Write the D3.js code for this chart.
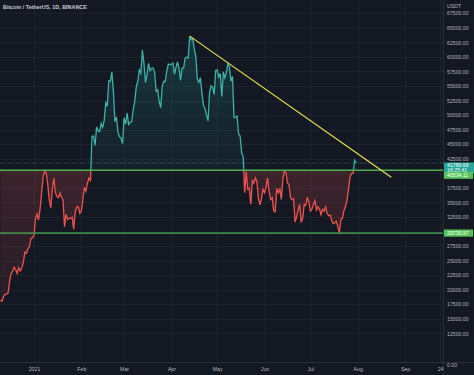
<!DOCTYPE html>
<html><head><meta charset="utf-8">
<script src="https://cdn.jsdelivr.net/npm/d3@7"></script>
<style>html,body{margin:0;padding:0;background:#131722;overflow:hidden}</style>
</head><body><svg id="c" width="474" height="375"></svg>
<script>
// ---------- data ----------
const title = "Bitcoin / TetherUS, 1D, BINANCE";
const currency = "USDT";
const startDate = "2020-12-10";
// daily closes from 2020-12-10 to 2021-07-31
const closes = [
  18254,18036,18808,19175,19273,19427,21380,22847,23137,23870,23477,22803,23783,23241,23735,24693,26443,26246,27036,27376,28856,28923,
  29331,32178,33000,31988,33949,36769,39432,40400,40088,38150,35404,34051,37371,39144,36742,35994,35828,36631,35891,35468,30850,32945,32078,32259,32254,32467,30366,33364,34252,34262,33092,
  33526,35466,37618,36937,38291,39186,38795,46374,46420,44807,47969,47287,47153,48577,47911,49133,52119,51552,55906,55841,57408,54087,48891,49676,47073,46276,46106,45135,
  49587,48440,50349,48374,48751,48882,50971,52375,54884,55851,57773,57221,61188,58968,55605,56900,58912,57648,58030,58102,57351,54083,54340,52303,51293,55025,55817,55777,57635,58746,58740,
  58720,58950,57051,58202,59129,57992,56000,58088,58092,59778,59964,59835,63577,62959,63159,61334,60006,56151,55633,56425,53787,51690,51125,50047,49004,54022,55034,54825,53556,57697,
  57797,56578,57170,53200,57436,56393,57314,58862,58241,55816,56670,49631,49671,49841,46762,46431,43538,42849,36690,40300,37252,37449,34655,38750,38324,39241,38529,35663,34605,35641,37254,
  36693,37568,39246,36829,35513,35796,33552,33380,37389,36662,37288,35511,39020,40400,40144,38349,38092,35820,35484,35600,31608,32509,33678,34663,31584,32283,34700,34494,35911,35045,
  33504,33786,34669,35287,33690,34220,33862,32875,33815,33502,34259,33086,32730,32820,31880,31383,31520,31779,30839,29790,32144,32288,33581,34292,35350,37337,39406,39995,40009,42236,41781
];
const baseline = 40534.11;
const levels = [40534.11, 29735.97];
const levelLabels = ["40534.11", "29735.97"];
const lastPrice = 41780.68;
const lastPriceLabel = "41780.68";
const countdown = "16:25:41";
const trendDates = ["2021-04-13", "2021-08-23"];
const trendPrices = [63577, 39320];
const yTicks = [12500,15000,17500,20000,22500,25000,27500,30000,32500,35000,37500,40000,42500,45000,47500,50000,52500,55000,57500,60000,62500,65000,67500];
const xTickDates = ["2021-01-01","2021-02-01","2021-03-01","2021-04-01","2021-05-01","2021-06-01","2021-07-01","2021-08-01","2021-09-01","2021-09-24"];
const xTickLabels = ["2021","Feb","Mar","Apr","May","Jun","Jul","Aug","Sep","24"];
const zeroLabel = "0.00";

// ---------- layout ----------
const W = 474, H = 375, plotR = 443, plotB = 362;
const FONT = "'Liberation Sans', Arial, sans-serif";
const C = {bg:"#141823", grid:"#1d212c", axisLine:"#2a2e39", text:"#b2b5be", teal:"#3bb3a6", red:"#ef5350",
           green:"#4caf50", yellow:"#e9e24f"};

const day = 86400000;
const t0 = new Date(startDate).getTime();
const data = closes.map((v,i)=>({d:new Date(t0+i*day), v}));

const x = d3.scaleUtc().domain([new Date("2021-01-01"), new Date("2021-09-01")]).range([34, 405]);
const y = d3.scaleLinear().domain([12500, 67500]).range([333.4, 13.3]);

const svg = d3.select("#c");
svg.append("rect").attr("width",W).attr("height",H).attr("fill",C.bg);

const defs = svg.append("defs");
const yb = y(baseline);
defs.append("clipPath").attr("id","above").append("rect").attr("x",0).attr("y",0).attr("width",plotR).attr("height",yb);
defs.append("clipPath").attr("id","below").append("rect").attr("x",0).attr("y",yb).attr("width",plotR).attr("height",plotB-yb);

const gT = defs.append("linearGradient").attr("id","gT").attr("gradientUnits","userSpaceOnUse")
  .attr("x1",0).attr("x2",0).attr("y1",y(d3.max(closes))).attr("y2",yb);
gT.append("stop").attr("offset",0).attr("stop-color","#26a69a").attr("stop-opacity",0.22);
gT.append("stop").attr("offset",1).attr("stop-color","#26a69a").attr("stop-opacity",0.05);
const gR = defs.append("linearGradient").attr("id","gR").attr("gradientUnits","userSpaceOnUse")
  .attr("x1",0).attr("x2",0).attr("y1",yb).attr("y2",y(d3.min(closes)));
gR.append("stop").attr("offset",0).attr("stop-color","#ef5350").attr("stop-opacity",0.18);
gR.append("stop").attr("offset",1).attr("stop-color","#ef5350").attr("stop-opacity",0.09);

// grid
const grid = svg.append("g");
grid.selectAll("line.h").data(yTicks).join("line")
  .attr("x1",0).attr("x2",plotR).attr("y1",d=>Math.round(y(d))+0.5).attr("y2",d=>Math.round(y(d))+0.5)
  .attr("stroke",C.grid).attr("stroke-width",1);
grid.selectAll("line.v").data(xTickDates).join("line")
  .attr("x1",d=>Math.round(x(new Date(d)))+0.5).attr("x2",d=>Math.round(x(new Date(d)))+0.5)
  .attr("y1",0).attr("y2",plotB).attr("stroke",C.grid).attr("stroke-width",1);

// series
const area = d3.area().x(d=>x(d.d)).y0(yb).y1(d=>y(d.v));
const line = d3.line().x(d=>x(d.d)).y(d=>y(d.v));
const s = svg.append("g");
s.append("path").datum(data).attr("d",area).attr("fill","url(#gT)").attr("clip-path","url(#above)");
s.append("path").datum(data).attr("d",area).attr("fill","url(#gR)").attr("clip-path","url(#below)");
s.append("path").datum(data).attr("d",line).attr("fill","none").attr("stroke",C.teal).attr("stroke-width",1.3).attr("clip-path","url(#above)");
s.append("path").datum(data).attr("d",line).attr("fill","none").attr("stroke",C.red).attr("stroke-width",1.3).attr("clip-path","url(#below)");

// last price line
svg.append("line").attr("x1",0).attr("x2",plotR).attr("y1",y(lastPrice)).attr("y2",y(lastPrice))
  .attr("stroke","#26a69a").attr("stroke-opacity",0.55).attr("stroke-width",1).attr("stroke-dasharray","1,1");

// horizontal levels
svg.selectAll("line.lvl").data(levels).join("line")
  .attr("x1",0).attr("x2",plotR).attr("y1",d=>y(d)).attr("y2",d=>y(d))
  .attr("stroke",C.green).attr("stroke-width",1.3);

// trend line
svg.append("line")
  .attr("x1",x(new Date(trendDates[0]))).attr("y1",y(trendPrices[0]))
  .attr("x2",x(new Date(trendDates[1]))).attr("y2",y(trendPrices[1]))
  .attr("stroke",C.yellow).attr("stroke-width",1.2);

// axes frame
svg.append("line").attr("x1",plotR+0.5).attr("x2",plotR+0.5).attr("y1",0).attr("y2",H).attr("stroke",C.axisLine);
svg.append("line").attr("x1",0).attr("x2",W).attr("y1",plotB+0.5).attr("y2",plotB+0.5).attr("stroke",C.axisLine);

// price label geometry (boxes on the right axis)
const yl = y(lastPrice);
const lastBox = [yl-0.5, yl+10.5];
const lb = [y(levels[0])+5, y(levels[1])];
const covered = yy => (yy > lastBox[0]-3 && yy < lastBox[1]+9) || Math.abs(yy-lb[1]) < 5;

// right axis
const ya = svg.append("g").attr("transform",`translate(${plotR},0)`)
  .call(d3.axisRight(y).tickValues(yTicks).tickSize(0).tickPadding(4).tickFormat(d=>d.toFixed(2)));
ya.select(".domain").remove();
ya.selectAll("text").attr("fill",C.text).attr("font-family",FONT).attr("font-size",5.2);
ya.selectAll(".tick").filter(d=>covered(y(d))).remove();

// bottom axis
const xa = svg.append("g").attr("transform",`translate(0,${plotB})`)
  .call(d3.axisBottom(x).tickValues(xTickDates.map(d=>new Date(d))).tickSize(0).tickPadding(5)
    .tickFormat((d,i)=>xTickLabels[i]));
xa.select(".domain").remove();
xa.selectAll("text").attr("fill",C.text).attr("font-family",FONT).attr("font-size",5.2);

// other texts
svg.append("text").attr("x",3).attr("y",9).text(title).attr("fill","#c8cbd3")
  .attr("font-family",FONT).attr("font-size",5.4).attr("font-weight","bold");
svg.append("text").attr("x",447).attr("y",7.5).text(currency).attr("fill",C.text)
  .attr("font-family",FONT).attr("font-size",5.2);
svg.append("text").attr("x",447).attr("y",367).text(zeroLabel).attr("fill",C.text)
  .attr("font-family",FONT).attr("font-size",5.2);

// price labels
const lab = svg.append("g").attr("font-family",FONT).attr("font-size",5.2);
lab.append("rect").attr("x",plotR+1).attr("y",lastBox[0]).attr("width",W-plotR-1).attr("height",lastBox[1]-lastBox[0]).attr("fill","#26a69a");
lab.append("text").attr("x",447).attr("y",yl+4).text(lastPriceLabel).attr("fill","#ffffff");
lab.append("text").attr("x",447).attr("y",yl+9).text(countdown).attr("fill","#ffffff");
levels.forEach((v,i)=>{
  lab.append("rect").attr("x",plotR+1).attr("y",lb[i]-3.6).attr("width",W-plotR-2).attr("height",7.2).attr("fill","#56c25b");
  lab.append("text").attr("x",447).attr("y",lb[i]+1.8).text(levelLabels[i]).attr("fill","#ffffff");
});
</script>
</body></html>
